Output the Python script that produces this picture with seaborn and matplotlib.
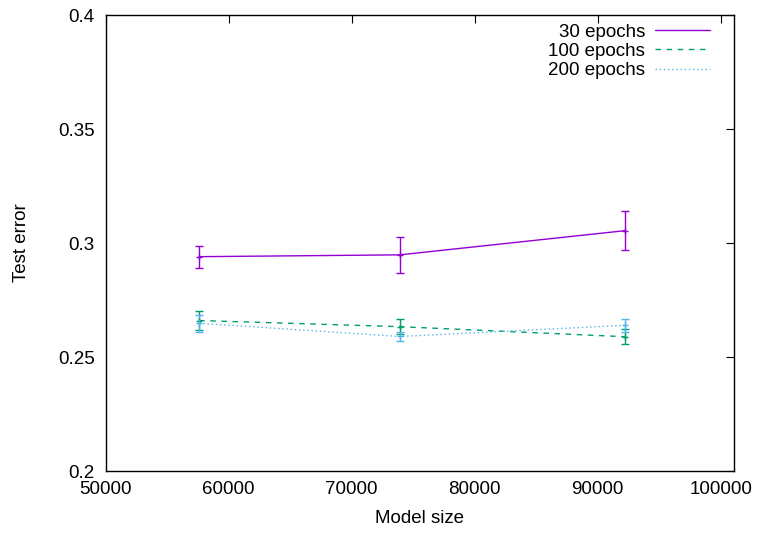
import numpy as np
import pandas as pd
import matplotlib
matplotlib.use("Agg")
import matplotlib.pyplot as plt
import seaborn as sns
from matplotlib.ticker import FuncFormatter

# Model sizes (number of parameters)
model_size = [57600, 73900, 92200]

# Mean test error and error-bar half widths per training length
err_30 = [0.2940, 0.2948, 0.3054]
sd_30 = [0.0048, 0.0080, 0.0085]
err_100 = [0.2660, 0.2633, 0.2589]
sd_100 = [0.0043, 0.0033, 0.0032]
err_200 = [0.2648, 0.2590, 0.2639]
sd_200 = [0.0037, 0.0019, 0.0028]

labels = ["30 epochs", "100 epochs", "200 epochs"]
x_ticks = [50000, 60000, 70000, 80000, 90000, 100000]
y_ticks = [0.2, 0.25, 0.3, 0.35, 0.4]

sns.set_theme(style="white")
plt.rcParams["font.family"] = ["Liberation Sans", "DejaVu Sans"]
plt.rcParams["text.color"] = "black"
plt.rcParams["axes.labelcolor"] = "black"

df = pd.DataFrame({
    "size": model_size * 3,
    "error": err_30 + err_100 + err_200,
    "sd": sd_30 + sd_100 + sd_200,
    "run": [labels[0]] * 3 + [labels[1]] * 3 + [labels[2]] * 3,
})

colors = {labels[0]: "#9400D3", labels[1]: "#009E73", labels[2]: "#56B4E9"}
dashes = {labels[0]: "", labels[1]: (4, 4), labels[2]: (1, 2)}

fig = plt.figure(figsize=(7.57, 5.35), dpi=100)
ax = fig.add_axes([105.7 / 757, 64 / 535, (733.7 - 105.7) / 757, (471 - 15) / 535])

sns.lineplot(data=df, x="size", y="error", hue="run", style="run",
             palette=colors, dashes=dashes, linewidth=1.0, ax=ax,
             markers=False, estimator=None, sort=False)

for run in labels:
    sub = df[df["run"] == run]
    ax.errorbar(sub["size"], sub["error"], yerr=sub["sd"], fmt="+",
                color=colors[run], ms=5, mew=1.0, elinewidth=1.0,
                capsize=2.6, capthick=1.0, linestyle="none")

ax.set_xlim(50000, 101050)
ax.set_ylim(0.2, 0.4)
ax.set_xticks(x_ticks)
ax.set_yticks(y_ticks)
ax.yaxis.set_major_formatter(FuncFormatter(lambda v, p: f"{v:g}"))
ax.xaxis.set_major_formatter(FuncFormatter(lambda v, p: f"{int(v)}"))
ax.tick_params(direction="in", length=6, width=0.8, top=True, right=True,
               labelsize=13.5, pad=8, colors="black")
ax.tick_params(axis="x", pad=7)
for sp in ax.spines.values():
    sp.set_color("black")
    sp.set_linewidth(1.0)

ax.set_xlabel("Model size", fontsize=13.5, labelpad=9, color="black")
ax.set_ylabel("Test error", fontsize=13.5, labelpad=20, color="black")

handles, lbls = ax.get_legend_handles_labels()
ax.legend(handles[:3], lbls[:3], loc="upper right", frameon=False,
          markerfirst=False, fontsize=13.5, handlelength=2.9,
          labelspacing=0.12, borderaxespad=0.0, handletextpad=0.55,
          bbox_to_anchor=(0.974, 0.998))

fig.savefig("out.png", dpi=100)
